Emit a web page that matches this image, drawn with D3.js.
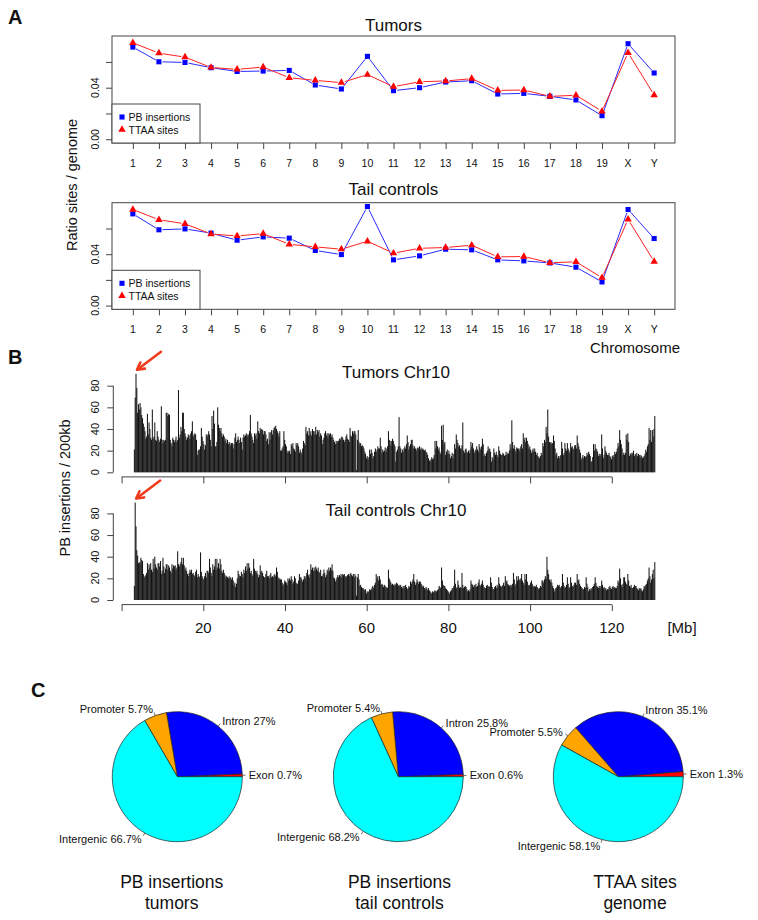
<!DOCTYPE html>
<html><head><meta charset="utf-8">
<script src="https://cdn.jsdelivr.net/npm/d3@7"></script>
<style>body{margin:0;background:#fff}svg{display:block}text{font-family:"Liberation Sans",Arial,sans-serif;fill:#111}</style>
</head><body><svg id="c" width="758" height="920"></svg>
<script>
// ---------- Panel A data ----------
const chromosomes = ["1","2","3","4","5","6","7","8","9","10","11","12","13","14","15","16","17","18","19","X","Y"];
const tumorsPB = [0.0715,0.0601,0.0596,0.0555,0.0526,0.0529,0.0534,0.0421,0.0390,0.0643,0.0377,0.0400,0.0444,0.0454,0.0351,0.0356,0.0333,0.0305,0.0183,0.0741,0.0514];
const tailPB   = [0.0714,0.0590,0.0597,0.0564,0.0509,0.0535,0.0525,0.0429,0.0397,0.0771,0.0356,0.0387,0.0439,0.0434,0.0356,0.0348,0.0332,0.0299,0.0184,0.0748,0.0522];
const ttaaSites = [0.0748,0.0668,0.0637,0.0557,0.0542,0.0560,0.0477,0.0457,0.0439,0.0501,0.0408,0.0446,0.0452,0.0470,0.0379,0.0382,0.0333,0.0341,0.0217,0.0671,0.0343];
const yTicksA = [0, 0.02, 0.04, 0.06];
const yTickLabelsA = ["0.00", "", "0.04", ""];
const legendLabels = ["PB insertions", "TTAA sites"];

// ---------- Panel B data (insertions per 200 kb bin, chr10 from 3 Mb) ----------
const chr10Start = 3.0, binSize = 0.2;
const tumorsChr10 = [
21,69,91,78,55,63,58,64,60,53, 50,45,42,38,31,33,54,35,46,40, 32,30,58,31,33,46,30,29,38,33, 30,28,31,61,30,27,30,29,30,55,
55,52,54,53,30,27,24,32,30,28, 30,33,28,30,76,32,35,42,38,55, 55,40,36,33,30,32,35,34,31,36, 38,47,33,35,36,35,30,16,20,21,
21,24,41,33,29,26,21,25,35,33, 35,38,35,30,24,52,40,57,45,24, 24,28,60,44,41,38,41,36,33,35, 33,29,31,27,30,26,28,27,25,27,
27,22,26,32,36,28,30,33,30,27, 32,28,21,32,35,33,34,36,35,33, 35,38,53,36,33,30,27,36,34,36, 31,47,38,36,41,39,40,39,35,38,
38,35,29,31,26,37,30,37,39,35, 39,41,42,43,40,38,36,33,38,20, 20,22,24,38,30,26,24,18,20,19, 20,17,26,24,27,22,21,19,27,25,
27,24,18,21,19,17,22,29,27,25, 42,36,38,34,41,35,38,34,40,38, 38,35,42,35,39,37,39,33,36,34, 26,30,32,36,38,34,36,32,36,35,
36,33,35,32,30,28,26,29,27,29, 29,31,30,32,33,32,30,28,30,33, 35,31,30,28,41,34,33,38,36,38, 38,35,2,30,39,28,26,27,24,25,
24,22,19,17,13,15,12,14,21,17, 21,18,13,15,19,22,19,21,24,22, 22,32,24,18,21,19,20,23,19,22, 24,38,30,29,25,29,31,29,26,24,
10,19,21,24,51,24,22,18,21,19, 22,24,22,26,34,28,21,24,26,30, 30,25,22,24,22,20,22,23,22,24, 21,23,21,22,21,20,21,19,18,16,
13,11,10,12,14,12,13,16,29,22, 29,24,21,23,19,17,43,30,44,26, 28,16,19,21,17,20,17,13,15,18, 13,17,26,22,35,30,27,24,25,22,
22,25,46,20,18,21,22,19,18,20, 18,21,28,24,27,22,18,20,21,24, 21,19,26,23,21,24,31,26,15,17, 15,18,20,24,21,22,19,10,14,12,
22,18,16,19,16,14,24,20,17,16, 16,18,17,15,16,19,16,18,17,20, 26,22,48,28,22,25,21,19,23,22, 22,20,22,24,26,22,36,30,32,28,
32,29,26,22,24,21,18,20,22,19, 22,19,16,18,15,14,13,15,18,16, 27,24,30,28,42,36,58,33,28,27, 28,26,27,34,29,22,16,18,13,15,
13,15,16,28,22,16,18,27,22,20, 27,22,20,18,27,23,24,21,22,25, 25,22,34,27,24,21,18,12,14,16, 13,15,14,15,18,16,19,17,15,10,
10,14,26,20,26,22,21,19,15,17, 15,17,35,22,13,16,24,20,18,16, 16,18,15,14,12,15,16,14,19,17, 19,22,27,24,39,30,26,22,16,18,
16,18,35,30,36,28,15,17,18,16, 18,20,15,17,16,18,15,17,16,14, 16,15,13,14,15,17,21,19,24,26, 41,30,39,28,39,33,40,52];
const tailChr10 = [
13,90,68,46,41,34,35,34,39,37, 36,24,21,22,23,25,34,28,33,30, 34,28,26,38,29,40,33,30,28,34, 34,31,36,24,27,39,31,25,29,33,
33,28,32,30,27,25,33,29,32,31, 32,28,30,45,33,31,33,35,39,33, 39,32,28,30,27,24,22,25,28,26, 28,24,25,23,22,26,28,21,24,22,
21,44,26,22,20,19,22,25,21,27, 27,25,38,30,25,22,33,28,31,38, 28,38,30,34,29,38,33,27,25,28, 25,23,21,22,21,20,22,20,21,19,
21,18,14,16,12,15,20,27,24,22, 22,26,24,21,28,25,31,27,34,29, 34,30,25,27,24,22,38,29,27,25, 27,24,21,23,32,26,27,25,22,21,
21,24,27,22,22,20,23,25,21,22, 21,23,24,22,30,26,21,19,20,19, 19,16,13,15,18,17,16,14,20,18, 20,18,22,19,15,17,22,20,16,15,
15,18,24,21,21,19,17,19,22,20, 22,25,28,23,21,24,33,28,30,27, 30,27,31,29,27,30,26,25,28,22, 22,24,28,25,21,23,28,26,30,27,
30,28,33,27,21,20,17,19,21,23, 21,23,22,24,21,24,23,24,22,21, 22,23,24,22,24,25,23,22,24,21, 24,22,4,21,24,19,13,14,12,11,
11,10,9,10,6,8,7,8,10,9, 10,12,13,11,14,16,24,20,22,18, 22,19,14,15,14,12,14,13,11,12, 11,28,20,18,16,14,15,14,13,15,
14,16,15,13,14,13,14,12,11,13, 11,13,14,12,10,11,13,12,17,15, 17,19,24,17,14,16,19,17,15,17, 17,15,14,12,13,11,10,12,11,9,
11,9,8,7,6,8,7,8,9,8, 8,9,10,13,12,11,30,18,14,13, 13,11,10,9,8,7,6,8,9,11, 11,13,28,15,11,12,18,14,11,12,
11,25,14,11,12,13,12,10,8,9, 8,10,18,15,14,12,14,13,15,12, 13,16,19,14,13,15,18,14,12,11, 11,13,14,12,13,12,21,16,12,10,
10,12,13,11,14,12,21,15,13,12, 13,14,16,13,22,17,18,15,14,13, 14,12,14,15,25,19,13,15,22,18, 22,19,18,20,24,18,16,14,24,19,
24,17,14,13,14,16,18,15,13,12, 13,12,14,12,11,10,11,13,12,18, 18,16,19,22,20,40,28,24,19,17, 19,16,13,11,8,10,11,12,14,13,
14,12,11,13,24,16,13,11,12,14, 21,15,11,12,21,16,13,12,14,16, 16,14,24,18,19,15,13,12,11,10, 10,12,11,21,15,12,8,10,9,11,
10,12,13,15,21,16,13,12,11,13, 11,13,18,14,11,12,10,11,9,10, 10,12,13,11,10,12,13,11,12,11, 11,13,18,16,29,20,14,12,15,21,
21,17,15,14,24,18,13,12,14,11, 11,12,14,13,13,11,10,9,11,10, 11,9,8,10,13,12,14,15,18,20, 30,22,16,19,24,28,20,35];
const yTicksB = [0, 20, 40, 60, 80];
const xTicksB = [0, 20, 40, 60, 80, 100, 120];
const xTickLabelsB = ["", "20", "40", "60", "80", "100", "120"];

// ---------- Panel C data ----------
const pieCategories = ["Exon", "Intron", "Promoter", "Intergenic"];
const pieColors = ["#ff0000", "#0000ff", "#ffa500", "#00ffff"];
const pieTumors = [0.7, 27, 5.7, 66.7];
const pieTail = [0.6, 25.8, 5.4, 68.2];
const pieGenome = [1.3, 35.1, 5.5, 58.1];
const pieCaptions = [["PB insertions", "tumors"], ["PB insertions", "tail controls"], ["TTAA sites", "genome"]];

const svg = d3.select("#c");

// Panel letters
[["A", 8, 23.5], ["B", 8, 364], ["C", 31, 697]].forEach(([t, x, y]) =>
  svg.append("text").attr("x", x).attr("y", y).attr("font-size", 20).attr("font-weight", "bold").text(t));

// ---------- Panel A ----------
function linePlot(top, bottom, title, titleY, pb) {
  const g = svg.append("g");
  const x = d3.scaleLinear().domain([0.2, 21.8]).range([112, 675]);
  const y = d3.scaleLinear().domain([-0.0029, 0.0801]).range([bottom, top]);
  const xi = i => x(i + 1);
  const ya = g.append("g").attr("transform", "translate(112,0)")
    .call(d3.axisLeft(y).tickValues(yTicksA).tickSize(6).tickFormat(""));
  ya.select(".domain").remove();
  ya.selectAll("line").attr("stroke", "#444");
  g.selectAll(".ylab").data(yTicksA).enter().append("text")
    .attr("transform", (d) => `translate(94.5,${y(d)}) rotate(-90)`)
    .attr("text-anchor", "middle").attr("dominant-baseline", "central")
    .attr("font-size", 10.5).text((d, i) => yTickLabelsA[i]);
  const xa = g.append("g").attr("transform", `translate(0,${bottom})`)
    .call(d3.axisBottom(x).tickValues(d3.range(1, 22)).tickSize(6).tickFormat(""));
  xa.select(".domain").remove();
  xa.selectAll("line").attr("stroke", "#444");
  g.selectAll(".xlab").data(chromosomes).enter().append("text")
    .attr("x", (d, i) => xi(i)).attr("y", bottom + 20)
    .attr("text-anchor", "middle").attr("dominant-baseline", "central")
    .attr("font-size", 10.5).text(d => d);
  g.append("rect").attr("x", 112).attr("y", top).attr("width", 563).attr("height", bottom - top)
    .attr("fill", "none").attr("stroke", "#444").attr("stroke-width", 1);
  g.append("text").attr("x", 393.5).attr("y", titleY).attr("text-anchor", "middle")
    .attr("dominant-baseline", "central").attr("font-size", 17).text(title);
  function seriesLine(vals, color) {
    const segs = [];
    for (let i = 0; i < vals.length - 1; i++) {
      const x1 = xi(i), y1 = y(vals[i]), x2 = xi(i + 1), y2 = y(vals[i + 1]);
      const dx = x2 - x1, dy = y2 - y1, L = Math.hypot(dx, dy), gp = 3.6;
      if (L > 2 * gp) segs.push([x1 + dx * gp / L, y1 + dy * gp / L, x2 - dx * gp / L, y2 - dy * gp / L]);
    }
    g.selectAll(null).data(segs).enter().append("line")
      .attr("x1", d => d[0]).attr("y1", d => d[1]).attr("x2", d => d[2]).attr("y2", d => d[3])
      .attr("stroke", color).attr("stroke-width", 1);
  }
  seriesLine(pb, "#2a2aff");
  seriesLine(ttaaSites, "#ff2020");
  const sq = d3.symbol(d3.symbolSquare, 26), tri = d3.symbol(d3.symbolTriangle, 24);
  g.selectAll(null).data(pb).enter().append("path")
    .attr("d", sq).attr("transform", (d, i) => `translate(${xi(i)},${y(d)})`).attr("fill", "#0000ff");
  g.selectAll(null).data(ttaaSites).enter().append("path")
    .attr("d", tri).attr("transform", (d, i) => `translate(${xi(i)},${y(d)})`).attr("fill", "#ff0000");
  const lg = g.append("g");
  lg.append("rect").attr("x", 112).attr("y", bottom - 39).attr("width", 88).attr("height", 39)
    .attr("fill", "#fff").attr("stroke", "#444");
  lg.append("path").attr("d", sq).attr("transform", `translate(122,${bottom - 26})`).attr("fill", "#0000ff");
  lg.append("path").attr("d", tri).attr("transform", `translate(122,${bottom - 13.5})`).attr("fill", "#ff0000");
  legendLabels.forEach((t, i) => lg.append("text").attr("x", 128.5).attr("y", bottom - 26 + i * 12.5)
    .attr("dominant-baseline", "central").attr("font-size", 10.5).text(t));
}
linePlot(36, 143, "Tumors", 25, tumorsPB);
linePlot(202.7, 309.3, "Tail controls", 189.3, tailPB);
svg.append("text").attr("transform", "translate(72,185) rotate(-90)").attr("text-anchor", "middle")
  .attr("dominant-baseline", "central").attr("font-size", 14.5).text("Ratio sites / genome");
svg.append("text").attr("x", 680).attr("y", 347.7).attr("text-anchor", "end")
  .attr("dominant-baseline", "central").attr("font-size", 15).text("Chromosome");

// ---------- Panel B ----------
function barPlot(base, title, titleY, data, showLabels) {
  const g = svg.append("g");
  const x = d3.scaleLinear().domain([0, 120]).range([121.6, 611.8]);
  const y = d3.scaleLinear().domain([0, 80]).range([base, base - 86.6]);
  const bw = x(binSize) - x(0);
  g.selectAll(null).data(data).enter().append("rect")
    .attr("x", (d, i) => x(chr10Start + i * binSize)).attr("width", bw * 1.25)
    .attr("y", d => y(d)).attr("height", d => y(0) - y(d)).attr("fill", "#141414");
  const ya = g.append("g").attr("transform", "translate(113.3,0)")
    .call(d3.axisLeft(y).tickValues(yTicksB).tickSize(6).tickFormat(""));
  ya.selectAll("path,line").attr("stroke", "#444");
  ya.select(".domain").attr("d", `M0,${y(0)}V${y(80)}`);
  g.selectAll(null).data(yTicksB).enter().append("text")
    .attr("transform", d => `translate(95,${y(d)}) rotate(-90)`)
    .attr("text-anchor", "middle").attr("dominant-baseline", "central").attr("font-size", 11).text(d => d);
  const xa = g.append("g").attr("transform", `translate(0,${base + 4.6})`)
    .call(d3.axisBottom(x).tickValues(xTicksB).tickSize(6.5).tickFormat(""));
  xa.selectAll("path,line").attr("stroke", "#444");
  xa.select(".domain").attr("d", `M${x(0)},0H${x(120)}`);
  if (showLabels) {
    g.selectAll(null).data(xTicksB).enter().append("text")
      .attr("x", d => x(d)).attr("y", base + 27).attr("text-anchor", "middle")
      .attr("dominant-baseline", "central").attr("font-size", 15).text((d, i) => xTickLabelsB[i]);
  }
  g.append("text").attr("x", 396).attr("y", titleY).attr("text-anchor", "middle")
    .attr("dominant-baseline", "central").attr("font-size", 17).text(title);
  const peakI = d3.maxIndex(data.slice(0, 10));
  const tx = x(chr10Start + peakI * binSize) + 1.5, ty = y(data[peakI]) - 4;
  const ax = tx + 24, ay = ty - 18;
  const ang = Math.atan2(ty - ay, tx - ax), hl = 8;
  const arrowColor = "#f03a1e";
  g.append("line").attr("x1", ax).attr("y1", ay).attr("x2", tx - Math.cos(ang)).attr("y2", ty - Math.sin(ang))
    .attr("stroke", arrowColor).attr("stroke-width", 2.6).attr("stroke-linecap", "round");
  g.append("path").attr("d", `M${tx - hl * Math.cos(ang - 0.5)},${ty - hl * Math.sin(ang - 0.5)}L${tx},${ty}L${tx - hl * Math.cos(ang + 0.5)},${ty - hl * Math.sin(ang + 0.5)}`)
    .attr("fill", "none").attr("stroke", arrowColor).attr("stroke-width", 2.6).attr("stroke-linecap", "round").attr("stroke-linejoin", "round");
}
barPlot(472.3, "Tumors Chr10", 372, tumorsChr10, false);
barPlot(600, "Tail controls Chr10", 510, tailChr10, true);
svg.append("text").attr("transform", "translate(65,488) rotate(-90)").attr("text-anchor", "middle")
  .attr("dominant-baseline", "central").attr("font-size", 14.5).text("PB insertions / 200kb");
svg.append("text").attr("x", 682).attr("y", 627).attr("text-anchor", "middle")
  .attr("dominant-baseline", "central").attr("font-size", 15).text("[Mb]");

// ---------- Panel C ----------
const R = 65;
const pieGen = d3.pie().sort(null).startAngle(Math.PI / 2).endAngle(Math.PI / 2 - 2 * Math.PI);
const arcGen = d3.arc().innerRadius(0).outerRadius(R);
function drawPie(cx, cy, vals, caption, capX) {
  const g = svg.append("g").attr("transform", `translate(${cx},${cy})`);
  const arcs = pieGen(vals);
  g.selectAll(null).data(arcs).enter().append("path").attr("d", arcGen)
    .attr("fill", (d, i) => pieColors[i]).attr("stroke", "#222").attr("stroke-width", 0.7);
  arcs.forEach((a, i) => {
    const m = (a.startAngle + a.endAngle) / 2, px = Math.sin(m), py = -Math.cos(m);
    g.append("line").attr("x1", px * R).attr("y1", py * R).attr("x2", px * R * 1.05).attr("y2", py * R * 1.05)
      .attr("stroke", "#333").attr("stroke-width", 0.7);
    g.append("text").attr("x", px * R * 1.1).attr("y", py * R * 1.1)
      .attr("text-anchor", px < 0 ? "end" : "start").attr("dominant-baseline", "central")
      .attr("font-size", 11).text(`${pieCategories[i]} ${vals[i]}%`);
  });
  caption.forEach((t, i) => svg.append("text").attr("x", capX).attr("y", 881.7 + i * 21)
    .attr("text-anchor", "middle").attr("dominant-baseline", "central").attr("font-size", 17.5).text(t));
}
drawPie(177.3, 776.7, pieTumors, pieCaptions[0], 171.7);
drawPie(398.3, 776.7, pieTail, pieCaptions[1], 399.5);
drawPie(618.3, 776.7, pieGenome, pieCaptions[2], 635);
</script></body></html>
